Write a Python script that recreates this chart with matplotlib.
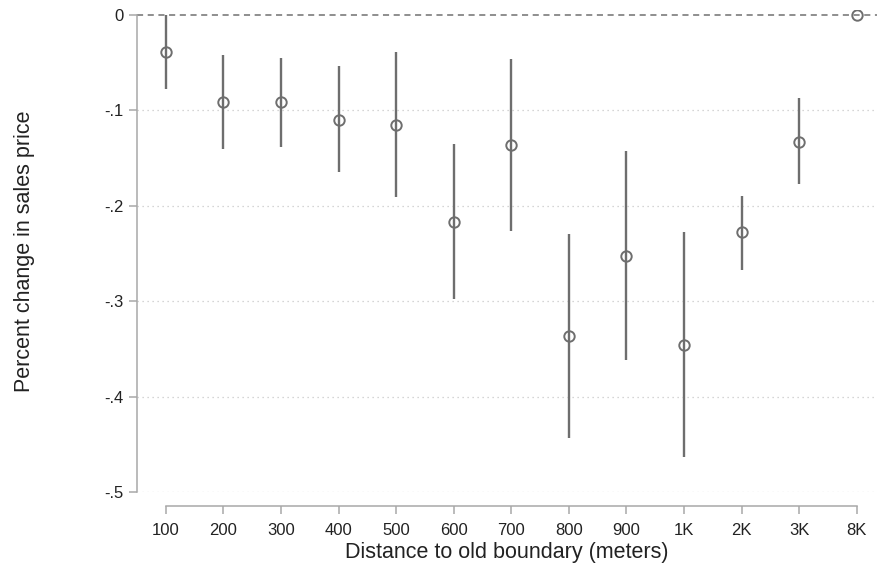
import matplotlib.pyplot as plt
import numpy as np

plt.rcParams['font.family'] = ['Liberation Sans', 'DejaVu Sans']

# distance bins and estimated effects with 95% CI bounds
bins = ["100", "200", "300", "400", "500", "600", "700",
        "800", "900", "1K", "2K", "3K", "8K"]
coef = [-0.039, -0.091, -0.091, -0.110, -0.115, -0.217, -0.136,
        -0.337, -0.253, -0.346, -0.228, -0.133, 0.0]
ci_hi = [0.0, -0.042, -0.045, -0.054, -0.039, -0.135, -0.046,
         -0.230, -0.143, -0.228, -0.190, -0.087, 0.0]
ci_lo = [-0.078, -0.141, -0.138, -0.165, -0.191, -0.298, -0.226,
         -0.443, -0.362, -0.463, -0.267, -0.177, 0.0]

gray = "#6e6e6e"
x = np.arange(len(bins))
coef = np.array(coef)
ci_hi = np.array(ci_hi)
ci_lo = np.array(ci_lo)

fig = plt.figure(figsize=(8.77, 5.73), dpi=100)
ax = fig.add_axes([137 / 877, 81 / 573, 740 / 877, (492 - 10.2) / 573])

# horizontal reference grid and zero line
for yv in [-0.1, -0.2, -0.3, -0.4, -0.5]:
    ax.axhline(yv, color="#c8c8c8", lw=0.9, ls=(0, (1, 3)), zorder=0)
ax.axhline(0, color="#707070", lw=1.1, ls=(0, (4, 3)), zorder=1)

ax.vlines(x, ci_lo, ci_hi, color=gray, lw=1.7, zorder=2)
ax.plot(x, coef, "o", ms=7.5, mfc="none", mec=gray, mew=1.4, zorder=3)

ax.set_xlim(-0.5, 12.35)
ax.set_ylim(-0.5, 0.005)

ax.set_xticks(x)
ax.set_xticklabels(bins)
ax.set_yticks([0, -0.1, -0.2, -0.3, -0.4, -0.5])
ax.set_yticklabels(["0", "-.1", "-.2", "-.3", "-.4", "-.5"])

for s in ["top", "right"]:
    ax.spines[s].set_visible(False)
ax.spines["left"].set_bounds(-0.5, 0)
ax.spines["bottom"].set_bounds(0, 12)
ax.spines["bottom"].set_position(("outward", 10))
for s in ["left", "bottom"]:
    ax.spines[s].set_color("#a8a8a8")
    ax.spines[s].set_linewidth(1.1)

ax.tick_params(axis="both", colors="#a8a8a8", labelcolor="#222222",
               labelsize=12, length=6, width=1.1)
ax.tick_params(axis="x", pad=6)

ax.set_xlabel("Distance to old boundary (meters)", fontsize=15.5,
              color="#222222", labelpad=3)
ax.set_ylabel("Percent change in sales price", fontsize=15.5,
              color="#222222", labelpad=50)

fig.savefig("out.png", dpi=100)
